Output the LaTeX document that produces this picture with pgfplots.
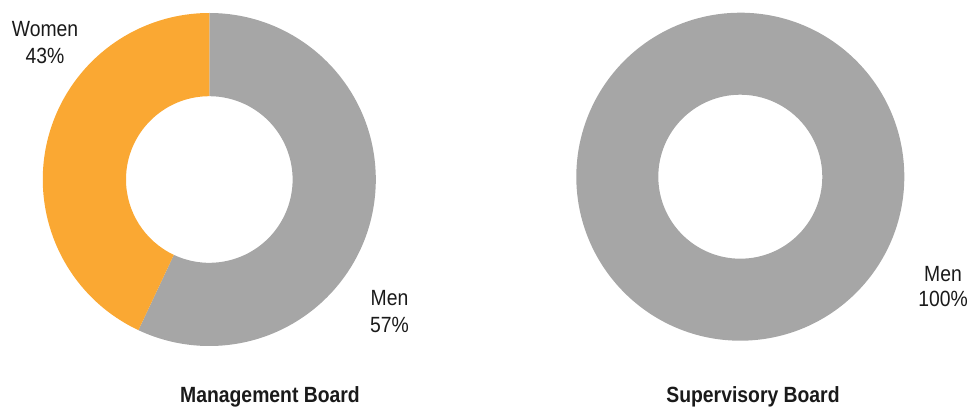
\documentclass[border=0pt]{standalone}
\usepackage{fontspec}
\setmainfont{Liberation Sans}[FakeStretch=0.88]
\usepackage{pgfplots}
\usepackage{pgfplotstable}
\pgfplotsset{compat=1.18}
\definecolor{mengray}{HTML}{A6A6A6}
\definecolor{womenorange}{HTML}{FAA833}
\definecolor{txt}{HTML}{1A1A1A}
\pgfplotstableread{
board men women
Management 57 43
Supervisory 100 0
}\boards
\pgfplotstablegetelem{0}{men}\of\boards \edef\mgmtmen{\pgfplotsretval}
\pgfplotstablegetelem{0}{women}\of\boards \edef\mgmtwomen{\pgfplotsretval}
\pgfplotstablegetelem{1}{men}\of\boards \edef\supmen{\pgfplotsretval}
\pgfplotstablegetelem{1}{women}\of\boards \edef\supwomen{\pgfplotsretval}
% ring segment: center x, center y, outer R, inner r, start angle, end angle
\newcommand{\ringseg}[7]{%
  \fill[#7] (axis cs:{#1+#3*cos(#5)},{#2+#3*sin(#5)})
    arc[start angle=#5, end angle=#6, radius=#3]
    -- (axis cs:{#1+#4*cos(#6)},{#2+#4*sin(#6)})
    arc[start angle=#6, end angle=#5, radius=#4] -- cycle;}
\begin{document}
\begin{tikzpicture}
\begin{axis}[
  width=969pt, height=407pt, scale only axis,
  xmin=0, xmax=969, ymin=0, ymax=407,
  hide axis, clip=false,
]
\path (rel axis cs:0,0) rectangle (rel axis cs:1,1);
\pgfmathsetmacro{\aA}{90-3.6*\mgmtmen}
\pgfmathsetmacro{\aB}{\aA-3.6*\mgmtwomen}
\ringseg{209.3}{227.5}{166.5}{83.3}{90}{\aA}{mengray}
\ringseg{209.3}{227.5}{166.5}{83.3}{\aA}{\aB}{womenorange}
\pgfmathsetmacro{\sA}{90-3.6*\supmen}
\ringseg{740.3}{230.3}{164}{82}{90}{\sA}{mengray}
\begin{scope}[every node/.style={font=\fontsize{22}{26}\selectfont, text=txt, inner sep=0pt, anchor=base}]
\node at (axis cs:45,370) {Women};
\node at (axis cs:45,343) {43\%};
\node at (axis cs:389.5,101.5) {Men};
\node at (axis cs:389.5,74.5) {57\%};
\node at (axis cs:943,125) {Men};
\node at (axis cs:943,100) {100\%};
\node[font=\fontsize{22}{26}\selectfont\bfseries] at (axis cs:270,5) {Management Board};
\node[font=\fontsize{22}{26}\selectfont\bfseries] at (axis cs:753,5) {Supervisory Board};
\end{scope}
\end{axis}
\end{tikzpicture}
\end{document}
